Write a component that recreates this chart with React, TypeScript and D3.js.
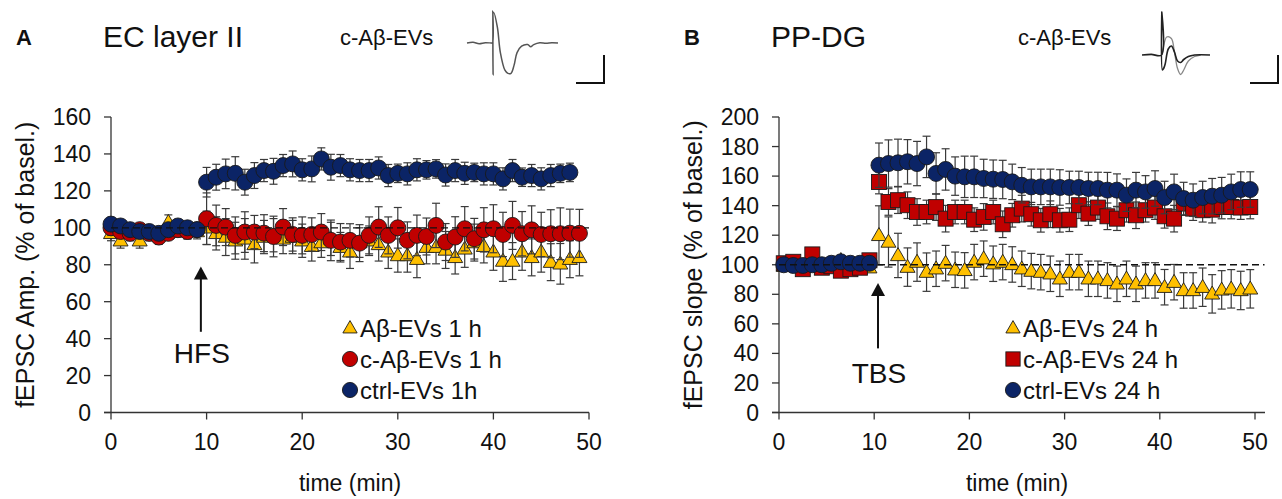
import * as d3 from 'd3';

const FONT = '"Liberation Sans", Arial, Helvetica, sans-serif';

// ---- time points (min) ----
const timeA = [
  0, 1, 2, 3, 4, 5, 6, 7, 8, 9, 10, 11, 12, 13, 14, 15, 16, 17, 18, 19, 20, 21, 22, 23, 24,
  25, 26, 27, 28, 29, 30, 31, 32, 33, 34, 35, 36, 37, 38, 39, 40, 41, 42, 43, 44, 45, 46, 47, 48, 49,
];
const timeB = [
  0.5, 1.5, 2.5, 3.5, 4.5, 5.5, 6.5, 7.5, 8.5, 9.5, 10.5, 11.5, 12.5, 13.5, 14.5, 15.5, 16.5, 17.5,
  18.5, 19.5, 20.5, 21.5, 22.5, 23.5, 24.5, 25.5, 26.5, 27.5, 28.5, 29.5, 30.5, 31.5, 32.5, 33.5,
  34.5, 35.5, 36.5, 37.5, 38.5, 39.5, 40.5, 41.5, 42.5, 43.5, 44.5, 45.5, 46.5, 47.5, 48.5, 49.5,
];

// ---- panel A: EC layer II, fEPSC amplitude (% of baseline) ----
const abEvs1h = [
  97, 93, 98, 93, 97, 96, 103, 99, 98, 98,
  100, 97, 95, 93, 94, 91, 95, 96, 94, 95, 93, 90, 92, 94, 89.5, 87, 92, 93, 91, 87,
  85, 85, 83, 89.5, 89.5, 88, 84, 88.6, 92, 90, 87, 82, 82, 87, 84, 87, 81.4, 80.5, 83, 84,
];
const abEvs1hSem = [
  4, 4, 4, 4, 4, 4, 4, 4, 4, 4,
  9, 9, 10, 10, 11, 10, 9, 9, 8, 9, 9, 8, 8, 9, 8, 9, 8, 8, 9, 9,
  9, 9, 10, 9, 9, 10, 9, 10, 10, 9, 10, 11, 10, 10, 10, 11, 10, 11, 10, 10,
];
const cAbEvs1h = [
  100, 98, 97, 99, 97, 95, 97, 99, 98, 99,
  104.9, 101.3, 100.4, 95.9, 97.7, 97.7, 97.1, 95.3, 100.4, 96.4, 95.9, 96.4, 97.7, 93.2, 92.3,
  93.2, 91.7, 95.9, 100.4, 95.9, 100, 93.2, 95.9, 95.3, 101.3, 92.3, 95, 99.5, 94.1, 98.9,
  99.5, 96.4, 101.3, 96.8, 98.9, 96.4, 96.8, 96.8, 97.1, 97,
];
const cAbEvs1hSem = [
  4, 3, 4, 3, 3, 4, 3, 3, 4, 3,
  14, 11, 10, 10, 11, 9, 10, 11, 10, 9, 10, 9, 10, 11, 10, 9, 10, 10, 11, 10,
  11, 10, 11, 10, 12, 10, 11, 12, 11, 12, 13, 12, 13, 12, 13, 12, 13, 14, 13, 13,
];
const ctrlEvs1h = [
  102, 101, 99, 98, 98, 97, 99, 101, 100, 99,
  124.7, 127.4, 129.2, 129.5, 124.7, 128.3, 131, 130.6, 133.7, 134.6, 131.4, 131.9, 137.3,
  132.8, 133.7, 131.4, 131, 131, 132.4, 128.3, 129.5, 129.2, 131.4, 131.4, 131.9, 128.6, 131,
  129.5, 130, 129.2, 129.2, 126.5, 131, 127.4, 128.3, 126.5, 128.3, 129.5, 130,
];
const ctrlEvs1hSem = [
  3, 3, 3, 3, 3, 3, 3, 3, 3, 3,
  8, 7, 8, 9, 7, 7, 6, 7, 6, 7, 6, 7, 6, 7, 6, 6, 6, 6, 6, 6,
  5, 6, 6, 5, 5, 6, 6, 6, 5, 6, 6, 6, 6, 5, 6, 6, 6, 5, 5,
];

// ---- panel B: PP-DG, fEPSC slope (% of baseline) ----
const abEvs24h = [
  99, 100, 99, 100, 98, 99, 103, 100, 99, 98,
  119.9, 115.4, 106.3, 98.4, 101.8, 95, 97.3, 101.1, 96.6, 96.2, 101.8, 104.1, 100.7, 101.8,
  100.2, 97.3, 95.7, 95, 93.9, 90.5, 95, 95, 90.5, 90.5, 89.4, 87.1, 90.5, 87.1, 89.4, 89.4,
  84.8, 88.2, 82.6, 82.6, 84.8, 80.3, 83, 83.7, 82.6, 83.7,
];
const abEvs24hSem = [
  3, 3, 3, 3, 3, 3, 3, 3, 3, 3,
  20, 17, 15, 13, 13, 13, 12, 12, 12, 12, 12, 12, 12, 12, 12, 12, 12, 12, 12, 12,
  12, 12, 12, 12, 12, 12, 12, 12, 12, 12, 12, 12, 12, 12, 13, 13, 13, 13, 13, 13,
];
const cAbEvs24h = [
  101, 102, 97, 107, 98, 99, 96, 97, 98, 103,
  156, 142.5, 143.7, 140.3, 135.7, 135.7, 139, 131.2, 135.7, 135.7, 130.5, 132.4, 135.7, 127.4,
  133.5, 138, 134.2, 130.1, 134.2, 130.1, 130.5, 140.3, 134.6, 138.7, 132.8, 131.2, 136.9,
  133.5, 136.9, 138.7, 132.8, 131.2, 141.4, 138, 136.9, 137.3, 139.1, 139.1, 138.7, 139.1,
];
const cAbEvs24hSem = [
  3, 3, 3, 3, 3, 3, 3, 3, 3, 3,
  8, 9, 9, 9, 9, 8, 9, 9, 8, 8, 8, 9, 8, 9, 8, 9, 8, 8, 9, 8,
  8, 9, 8, 8, 9, 8, 8, 9, 8, 8, 8, 9, 8, 8, 8, 9, 8, 8, 8, 8,
];
const ctrlEvs24h = [
  100, 99.5, 99.5, 100, 100, 101, 102, 101, 101, 101,
  167.4, 168.5, 169, 169.7, 168.5, 173, 161.8, 164.5, 160, 159.5, 159.5, 158.4, 157.9, 157.7,
  156.1, 153.8, 152.7, 152.7, 152.7, 152.3, 152.3, 152.3, 151.6, 151.6, 150.5, 150.5, 147.1,
  150.5, 149.3, 151.6, 145.5, 149.3, 144.8, 143.7, 145.5, 146.4, 147.1, 149.3, 150.9, 150.9,
];
const ctrlEvs24hSem = [
  2, 2, 2, 2, 2, 2, 2, 2, 2, 2,
  15, 16, 16, 15, 15, 14, 14, 14, 13, 14, 14, 13, 13, 13, 12, 12, 12, 12, 12, 12,
  11, 11, 11, 11, 12, 11, 11, 12, 11, 12, 11, 12, 11, 11, 11, 12, 12, 12, 12, 12,
];

const yTicksA = [0, 20, 40, 60, 80, 100, 120, 140, 160];
const yTicksB = [0, 20, 40, 60, 80, 100, 120, 140, 160, 180, 200];
const xTicks = [0, 10, 20, 30, 40, 50];

// example traces (ms, normalised mV)
const traceA: [number, number][] = [
  [0, 0], [2, 0.02], [4, -0.02], [6, 0.01], [8, 0], [8.4, 0], [8.5, 1.0], [8.6, -1.0], [8.8, 0.95],
  [10, 0.5], [11, -0.3], [12.5, -0.85], [13.5, -0.95], [14.5, -0.95], [15.5, -0.7], [16.5, -0.3],
  [18, -0.1], [20, -0.05], [21, -0.12], [22, -0.05], [24, 0.01], [26, -0.01], [28, 0.01], [30, 0],
];
const traceBGrey: [number, number][] = [
  [6.5, 0], [7, 0.3], [8, 0.6], [9.5, 0.55], [10.5, 0.1], [11.5, -0.45], [12.5, -0.65],
  [13.5, -0.5], [15, -0.2], [17, -0.05], [19, 0],
];
const traceBBlack: [number, number][] = [
  [0, 0], [3, 0.02], [6.3, 0], [6.4, 1.43], [6.6, -0.5], [7, -0.45], [7.5, -0.3], [8.5, 0.2],
  [9.5, 0.3], [10.5, 0.1], [11.5, -0.2], [12.5, -0.25], [13.5, -0.15], [15, -0.05], [17, 0],
  [19, 0.01], [22, 0],
];

const YELLOW = '#FFC000';
const RED = '#C00000';
const NAVY = '#0B2466';

type Shape = 'triangle' | 'circle' | 'square';
interface Series {
  name: string;
  shape: Shape;
  color: string;
  values: number[];
  sem: number[];
}

function Marker({ shape, cx, cy, color, s = 1 }: { shape: Shape; cx: number; cy: number; color: string; s?: number }) {
  const stroke = '#1a1a1a';
  if (shape === 'circle') {
    return <circle cx={cx} cy={cy} r={8 * s} fill={color} stroke={stroke} strokeWidth={0.9} />;
  }
  if (shape === 'square') {
    const h = 7.5 * s;
    return <rect x={cx - h} y={cy - h} width={2 * h} height={2 * h} fill={color} stroke={stroke} strokeWidth={0.9} />;
  }
  const w = 7.5 * s;
  const ht = 13 * s;
  return (
    <polygon
      points={`${cx},${cy - ht * 0.6} ${cx + w},${cy + ht * 0.4} ${cx - w},${cy + ht * 0.4}`}
      fill={color}
      stroke={stroke}
      strokeWidth={0.9}
    />
  );
}

interface PanelProps {
  letter: string;
  title: string;
  left: number;
  right: number;
  axisEnd: number;
  yMax: number;
  yTicks: number[];
  yLabel: string;
  times: number[];
  series: Series[];
  dashFrom: number;
  dashTo: number;
  arrow: { t: number; tip: number; tail: number; label: string; labelDy: number };
  legendX: number;
}

function Panel(p: PanelProps) {
  const top = 117;
  const bottom = 412.5;
  const x = d3.scaleLinear().domain([0, 50]).range([p.left, p.right]);
  const y = d3.scaleLinear().domain([0, p.yMax]).range([bottom, top]);
  const cap = 4;
  const ax = x(p.arrow.t);

  return (
    <g fontFamily={FONT} fill="#111">
      {/* panel letter and title */}
      <text x={p.left - 95} y={45} fontSize={22} fontWeight="bold">{p.letter}</text>
      <text x={p.left - 8} y={47} fontSize={30}>{p.title}</text>

      {/* y axis */}
      <line x1={p.left} x2={p.left} y1={top} y2={bottom} stroke="#333" strokeWidth={1.3} />
      {p.yTicks.map((t) => (
        <g key={t}>
          <line x1={p.left - 7} x2={p.left} y1={y(t)} y2={y(t)} stroke="#333" strokeWidth={1.3} />
          <text x={p.left - 20} y={y(t)} dy="0.35em" fontSize={23} textAnchor="end">{t}</text>
        </g>
      ))}
      <text
        transform={`translate(${p.left - 77},${(top + bottom) / 2}) rotate(-90)`}
        fontSize={25}
        textAnchor="middle"
      >
        {p.yLabel}
      </text>

      {/* x axis */}
      <line x1={p.left - 7} x2={p.axisEnd} y1={bottom} y2={bottom} stroke="#333" strokeWidth={1.3} />
      {xTicks.map((t) => (
        <g key={t}>
          <line x1={x(t)} x2={x(t)} y1={bottom} y2={bottom + 7} stroke="#333" strokeWidth={1.3} />
          <text x={x(t)} y={bottom + 37} fontSize={23} textAnchor="middle">{t}</text>
        </g>
      ))}
      <text x={(p.left + p.right) / 2} y={491} fontSize={23} textAnchor="middle">time (min)</text>

      {/* series: error bars then markers */}
      {p.series.map((s) => (
        <g key={s.name}>
          {s.values.map((v, i) => {
            const cx = x(p.times[i]);
            const y1 = y(v + s.sem[i]);
            const y2 = y(v - s.sem[i]);
            return (
              <g key={i} stroke="#3a3a3a" strokeWidth={1.2}>
                <line x1={cx} x2={cx} y1={y1} y2={y2} />
                <line x1={cx - cap} x2={cx + cap} y1={y1} y2={y1} />
                <line x1={cx - cap} x2={cx + cap} y1={y2} y2={y2} />
              </g>
            );
          })}
          {s.values.map((v, i) => (
            <Marker key={i} shape={s.shape} cx={x(p.times[i])} cy={y(v)} color={s.color} />
          ))}
        </g>
      ))}

      {/* baseline reference */}
      <line
        x1={x(p.dashFrom)}
        x2={x(p.dashTo)}
        y1={y(100)}
        y2={y(100)}
        stroke="#111"
        strokeWidth={1.3}
        strokeDasharray="7,4"
      />

      {/* stimulation arrow */}
      <line x1={ax} x2={ax} y1={y(p.arrow.tail)} y2={y(p.arrow.tip) + 10} stroke="#111" strokeWidth={2} />
      <polygon
        points={`${ax},${y(p.arrow.tip)} ${ax + 7},${y(p.arrow.tip) + 13} ${ax - 7},${y(p.arrow.tip) + 13}`}
        fill="#111"
      />
      <text x={ax + 1} y={y(p.arrow.tail) + p.arrow.labelDy} fontSize={28} textAnchor="middle">
        {p.arrow.label}
      </text>

      {/* legend */}
      {p.series.map((s, i) => (
        <g key={s.name}>
          <Marker shape={s.shape} cx={p.legendX} cy={328 + i * 31} color={s.color} s={0.95} />
          <text x={p.legendX + 10} y={328 + i * 31} dy="0.36em" fontSize={24}>{s.name}</text>
        </g>
      ))}
    </g>
  );
}

function TraceA() {
  const tx = d3.scaleLinear().domain([0, 30]).range([467, 558]);
  const ty = d3.scaleLinear().domain([-1, 1]).range([75, 11]);
  const line = d3.line<[number, number]>().x((d) => tx(d[0])).y((d) => ty(d[1])).curve(d3.curveCatmullRom);
  return (
    <g>
      <text x={340} y={45} fontSize={22} fontFamily={FONT} fill="#111">c-Aβ-EVs</text>
      <path d={line(traceA) ?? ''} fill="none" stroke="#555" strokeWidth={1.5} />
      <path d="M576,83 H604 V55" fill="none" stroke="#111" strokeWidth={2} />
    </g>
  );
}

function TraceB() {
  const tx = d3.scaleLinear().domain([0, 22]).range([1142, 1210]);
  const ty = d3.scaleLinear().domain([-1, 1]).range([85, 25]);
  const line = d3.line<[number, number]>().x((d) => tx(d[0])).y((d) => ty(d[1])).curve(d3.curveCatmullRom);
  return (
    <g>
      <text x={1018} y={45} fontSize={22} fontFamily={FONT} fill="#111">c-Aβ-EVs</text>
      <path d={line(traceBGrey) ?? ''} fill="none" stroke="#888" strokeWidth={1.3} />
      <path d={line(traceBBlack) ?? ''} fill="none" stroke="#222" strokeWidth={1.6} />
      <path d="M1250,83 H1278 V55" fill="none" stroke="#111" strokeWidth={2} />
    </g>
  );
}

export default function App() {
  const seriesA: Series[] = [
    { name: 'Aβ-EVs 1 h', shape: 'triangle', color: YELLOW, values: abEvs1h, sem: abEvs1hSem },
    { name: 'c-Aβ-EVs 1 h', shape: 'circle', color: RED, values: cAbEvs1h, sem: cAbEvs1hSem },
    { name: 'ctrl-EVs 1h', shape: 'circle', color: NAVY, values: ctrlEvs1h, sem: ctrlEvs1hSem },
  ];
  const seriesB: Series[] = [
    { name: 'Aβ-EVs 24 h', shape: 'triangle', color: YELLOW, values: abEvs24h, sem: abEvs24hSem },
    { name: 'c-Aβ-EVs 24 h', shape: 'square', color: RED, values: cAbEvs24h, sem: cAbEvs24hSem },
    { name: 'ctrl-EVs 24 h', shape: 'circle', color: NAVY, values: ctrlEvs24h, sem: ctrlEvs24hSem },
  ];

  return (
    <svg
      width={1282}
      height={499}
      viewBox="0 0 1282 499"
      style={{ position: 'absolute', left: 0, top: 0, background: '#fff' }}
    >
      <rect width={1282} height={499} fill="#fff" />
      <Panel
        letter="A"
        title="EC layer II"
        left={111}
        right={589}
        axisEnd={589}
        yMax={160}
        yTicks={yTicksA}
        yLabel="fEPSC Amp. (% of basel.)"
        times={timeA}
        series={seriesA}
        dashFrom={0}
        dashTo={50}
        arrow={{ t: 9.4, tip: 79, tail: 43.7, label: 'HFS', labelDy: 31 }}
        legendX={350}
      />
      <Panel
        letter="B"
        title="PP-DG"
        left={779}
        right={1255}
        axisEnd={1265}
        yMax={200}
        yTicks={yTicksB}
        yLabel="fEPSC slope (% of basel.)"
        times={timeB}
        series={seriesB}
        dashFrom={0}
        dashTo={51}
        arrow={{ t: 10.4, tip: 87.7, tail: 43.4, label: 'TBS', labelDy: 35 }}
        legendX={1013}
      />
      <TraceA />
      <TraceB />
    </svg>
  );
}
